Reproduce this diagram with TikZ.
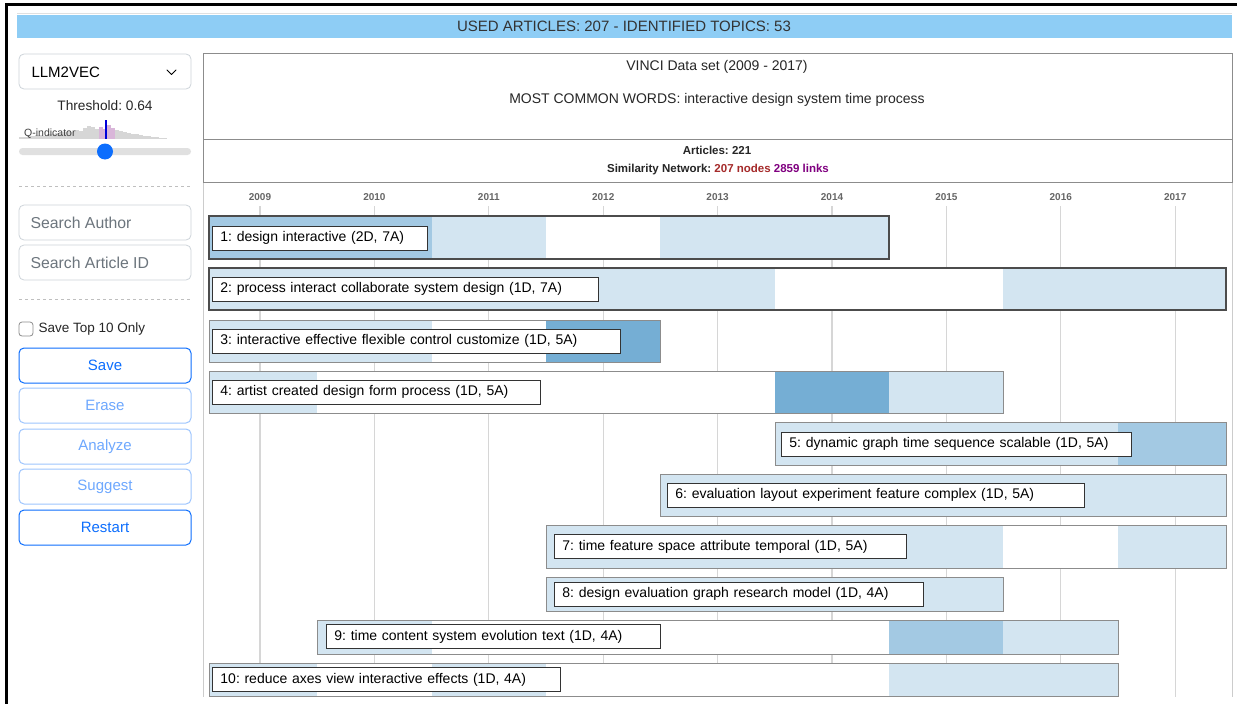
\documentclass[tikz,border=0pt]{standalone}
\usepackage{fontspec}
\setmainfont{Liberation Sans}
\usetikzlibrary{positioning}

\definecolor{hdrblue}{HTML}{8ECDF5}
\definecolor{lightbar}{HTML}{D3E5F1}
\definecolor{midbar}{HTML}{A3C9E3}
\definecolor{darkbar}{HTML}{75AED4}
\definecolor{btnblue}{HTML}{0D6EFD}
\definecolor{btnfaint}{HTML}{6EA8FE}
\definecolor{btnedge}{HTML}{9EC5FE}
\definecolor{boxedge}{HTML}{CED4DA}
\definecolor{hintgray}{HTML}{6C757D}
\definecolor{gridgray}{HTML}{D6D6D6}
\definecolor{nodered}{HTML}{A52A2A}
\definecolor{linkpurple}{HTML}{800080}
\definecolor{qpink}{HTML}{D9B6D9}

\tikzstyle{uibox}=[draw=boxedge, rounded corners=5pt, line width=0.8pt]
\tikzstyle{btn}=[draw=btnblue, rounded corners=5pt, line width=1pt, minimum width=172pt, minimum height=35pt, text=btnblue, font=\fontsize{15}{18}\selectfont]
\tikzstyle{btnoff}=[btn, draw=btnedge, text=btnfaint]
\tikzstyle{hint}=[anchor=west, text=hintgray, font=\fontsize{15.8}{18}\selectfont]
\tikzstyle{tlabel}=[draw=black!80, fill=white, line width=0.9pt, anchor=west, inner xsep=8pt, minimum height=24pt, align=left, font=\fontsize{14}{16}\selectfont]
\tikzstyle{year}=[text=black!60, font=\bfseries\fontsize{10}{12}\selectfont]
\tikzstyle{topic}=[draw=black!45, line width=0.8pt]
\tikzstyle{topicsel}=[draw=black!70, line width=2.5pt]
\tikzstyle{info}=[text=black!85, font=\fontsize{14}{16}\selectfont]
\tikzstyle{infob}=[text=black!85, font=\bfseries\fontsize{11.5}{13}\selectfont]

\begin{document}
\frenchspacing
\begin{tikzpicture}[x=1pt, y=-1pt]
    \useasboundingbox (0,0) rectangle (1237,704);
    \fill[white] (0,0) rectangle (1237,704);
    % frame
    \draw[line width=3pt] (6.5,704) -- (6.5,4) -- (1237,4);
    \draw[black!12] (17,13.5) -- (1232,13.5);
    \fill[hdrblue] (17,15) rectangle (1232,38);
    \node[font=\fontsize{15}{18}\selectfont, text=black!80] (used) at (624,26.5) {USED ARTICLES: 207 - IDENTIFIED TOPICS: 53};

    % left panel
    \draw[uibox] (19,54) rectangle (191,89);
    \node[anchor=west, font=\fontsize{15}{18}\selectfont] (model) at (28,72) {LLM2VEC};
    \draw[line width=1pt, line cap=round, line join=round] (167,70) -- (171.5,74.5) -- (176,70);
    \node[font=\fontsize{13.7}{15}\selectfont, text=black!85] (thresh) at (105,106) {Threshold: 0.64};
    \foreach \h [count=\i] in {2,2,3,3,4,4,3,5,5,6,5,7,8,7,9,8,11,13,12,10,12,10,14,11,9,8,7,6,5,5,4,3,3,2,2,1,1} {
        \ifnum\i>20\relax\ifnum\i<25\relax\def\hc{qpink}\else\def\hc{black!16}\fi\else\def\hc{black!16}\fi
        \fill[\hc] ({19+(\i-1)*4},139) rectangle ++(3.5,-\h);
    }
    \draw[blue!85!black, line width=2pt] (105.5,120) -- (105.5,139);
    \node[anchor=west, text=black!75, font=\fontsize{10.5}{12}\selectfont, inner sep=1pt] (qind) at (23,134) {Q-indicator};
    \fill[black!12, rounded corners=3.5pt] (19,148) rectangle (191,155);
    \fill[btnblue] (105,151.5) circle (8);
    \draw[black!25, dashed] (19,186) -- (191,186);
    \draw[uibox] (19,205) rectangle (191,240);
    \node[hint] (author) at (27,222.5) {Search Author};
    \draw[uibox] (19,245) rectangle (191,280);
    \node[hint] (artid) at (27,262.5) {Search Article ID};
    \draw[black!25, dashed] (19,299) -- (191,299);
    \draw[draw=black!45, rounded corners=3pt, line width=0.8pt] (19,322) rectangle (33,336);
    \node[anchor=west, font=\fontsize{13.5}{15}\selectfont, text=black!85] (topten) at (35,329) {Save Top 10 Only};
    \node[btn] (save) at (105,365.5) {Save};
    \node[btnoff] (erase) at (105,405.5) {Erase};
    \node[btnoff] (analyze) at (105,446.5) {Analyze};
    \node[btnoff] (suggest) at (105,486.5) {Suggest};
    \node[btn] (restart) at (105,527.5) {Restart};

    % main panel
    \draw[black!20] (203,182) -- (203,697);
    \draw[black!20] (1232,182) -- (1232,697);
    \draw[black!45, line width=0.9pt] (203,53) rectangle (1232,182);
    \draw[black!45, line width=0.9pt] (203,139) -- (1232,139);
    \node[info] (dataset) at (717,67) {VINCI Data set (2009 - 2017)};
    \node[info] (common) at (717,100) {MOST COMMON WORDS: interactive design system time process};
    \node[infob] (articles) at (717,150) {Articles: 221};
    \node[infob] (simnet) at (718,170) {Similarity Network: \textcolor{nodered}{207 nodes} \textcolor{linkpurple}{2859 links}};

    % years and grid
    \foreach \yr [count=\i] in {2009,...,2017} {
        \node[year] (y\yr) at ({260+(\i-1)*114.4},197) {\yr};
        \draw[gridgray, line width=1.2pt] ({260+(\i-1)*114.4},206) -- ({260+(\i-1)*114.4},697);
    }

    % topic bars
    \fill[midbar] (209,216) rectangle (432,259);
    \fill[lightbar] (432,216) rectangle (546,259);
    \fill[white] (546,216) rectangle (660,259);
    \fill[lightbar] (660,216) rectangle (889,259);
    \draw[topicsel] (209,216) rectangle (889,259);
    \node[tlabel, text width=199pt] (t1) at (212,238) {1: design interactive (2D, 7A)};

    \fill[lightbar] (209,268) rectangle (775,310);
    \fill[white] (775,268) rectangle (1003,310);
    \fill[lightbar] (1003,268) rectangle (1226,310);
    \draw[topicsel] (209,268) rectangle (1226,310);
    \node[tlabel, text width=370pt] (t2) at (212,289) {2: process interact collaborate system design (1D, 7A)};

    \fill[lightbar] (209,320) rectangle (432,362);
    \fill[white] (432,320) rectangle (546,362);
    \fill[darkbar] (546,320) rectangle (660,362);
    \draw[topic] (209,320) rectangle (660,362);
    \node[tlabel, text width=392pt] (t3) at (212,341) {3: interactive effective flexible control customize (1D, 5A)};

    \fill[lightbar] (209,371) rectangle (317,413);
    \fill[white] (317,371) rectangle (775,413);
    \fill[darkbar] (775,371) rectangle (889,413);
    \fill[lightbar] (889,371) rectangle (1003,413);
    \draw[topic] (209,371) rectangle (1003,413);
    \node[tlabel, text width=312pt] (t4) at (212,392) {4: artist created design form process (1D, 5A)};

    \fill[lightbar] (775,422) rectangle (1118,465);
    \fill[midbar] (1118,422) rectangle (1226,465);
    \draw[topic] (775,422) rectangle (1226,465);
    \node[tlabel, text width=334pt] (t5) at (781,444) {5: dynamic graph time sequence scalable (1D, 5A)};

    \fill[lightbar] (660,474) rectangle (1226,516);
    \draw[topic] (660,474) rectangle (1226,516);
    \node[tlabel, text width=401pt] (t6) at (667,495) {6: evaluation layout experiment feature complex (1D, 5A)};

    \fill[lightbar] (546,525) rectangle (1003,568);
    \fill[white] (1003,525) rectangle (1118,568);
    \fill[lightbar] (1118,525) rectangle (1226,568);
    \draw[topic] (546,525) rectangle (1226,568);
    \node[tlabel, text width=336pt] (t7) at (554,546.5) {7: time feature space attribute temporal (1D, 5A)};

    \fill[lightbar] (546,577) rectangle (1003,611);
    \draw[topic] (546,577) rectangle (1003,611);
    \node[tlabel, text width=353pt] (t8) at (554,594) {8: design evaluation graph research model (1D, 4A)};

    \fill[lightbar] (317,620) rectangle (432,654);
    \fill[white] (432,620) rectangle (889,654);
    \fill[midbar] (889,620) rectangle (1003,654);
    \fill[lightbar] (1003,620) rectangle (1118,654);
    \draw[topic] (317,620) rectangle (1118,654);
    \node[tlabel, text width=318pt] (t9) at (326,636.5) {9: time content system evolution text (1D, 4A)};

    \fill[lightbar] (209,663) rectangle (317,696);
    \fill[white] (317,663) rectangle (432,696);
    \fill[lightbar] (432,663) rectangle (546,696);
    \fill[white] (546,663) rectangle (889,696);
    \fill[lightbar] (889,663) rectangle (1118,696);
    \draw[topic] (209,663) rectangle (1118,696);
    \node[tlabel, text width=332pt] (t10) at (212,679.5) {10: reduce axes view interactive effects (1D, 4A)};
\end{tikzpicture}
\end{document}
